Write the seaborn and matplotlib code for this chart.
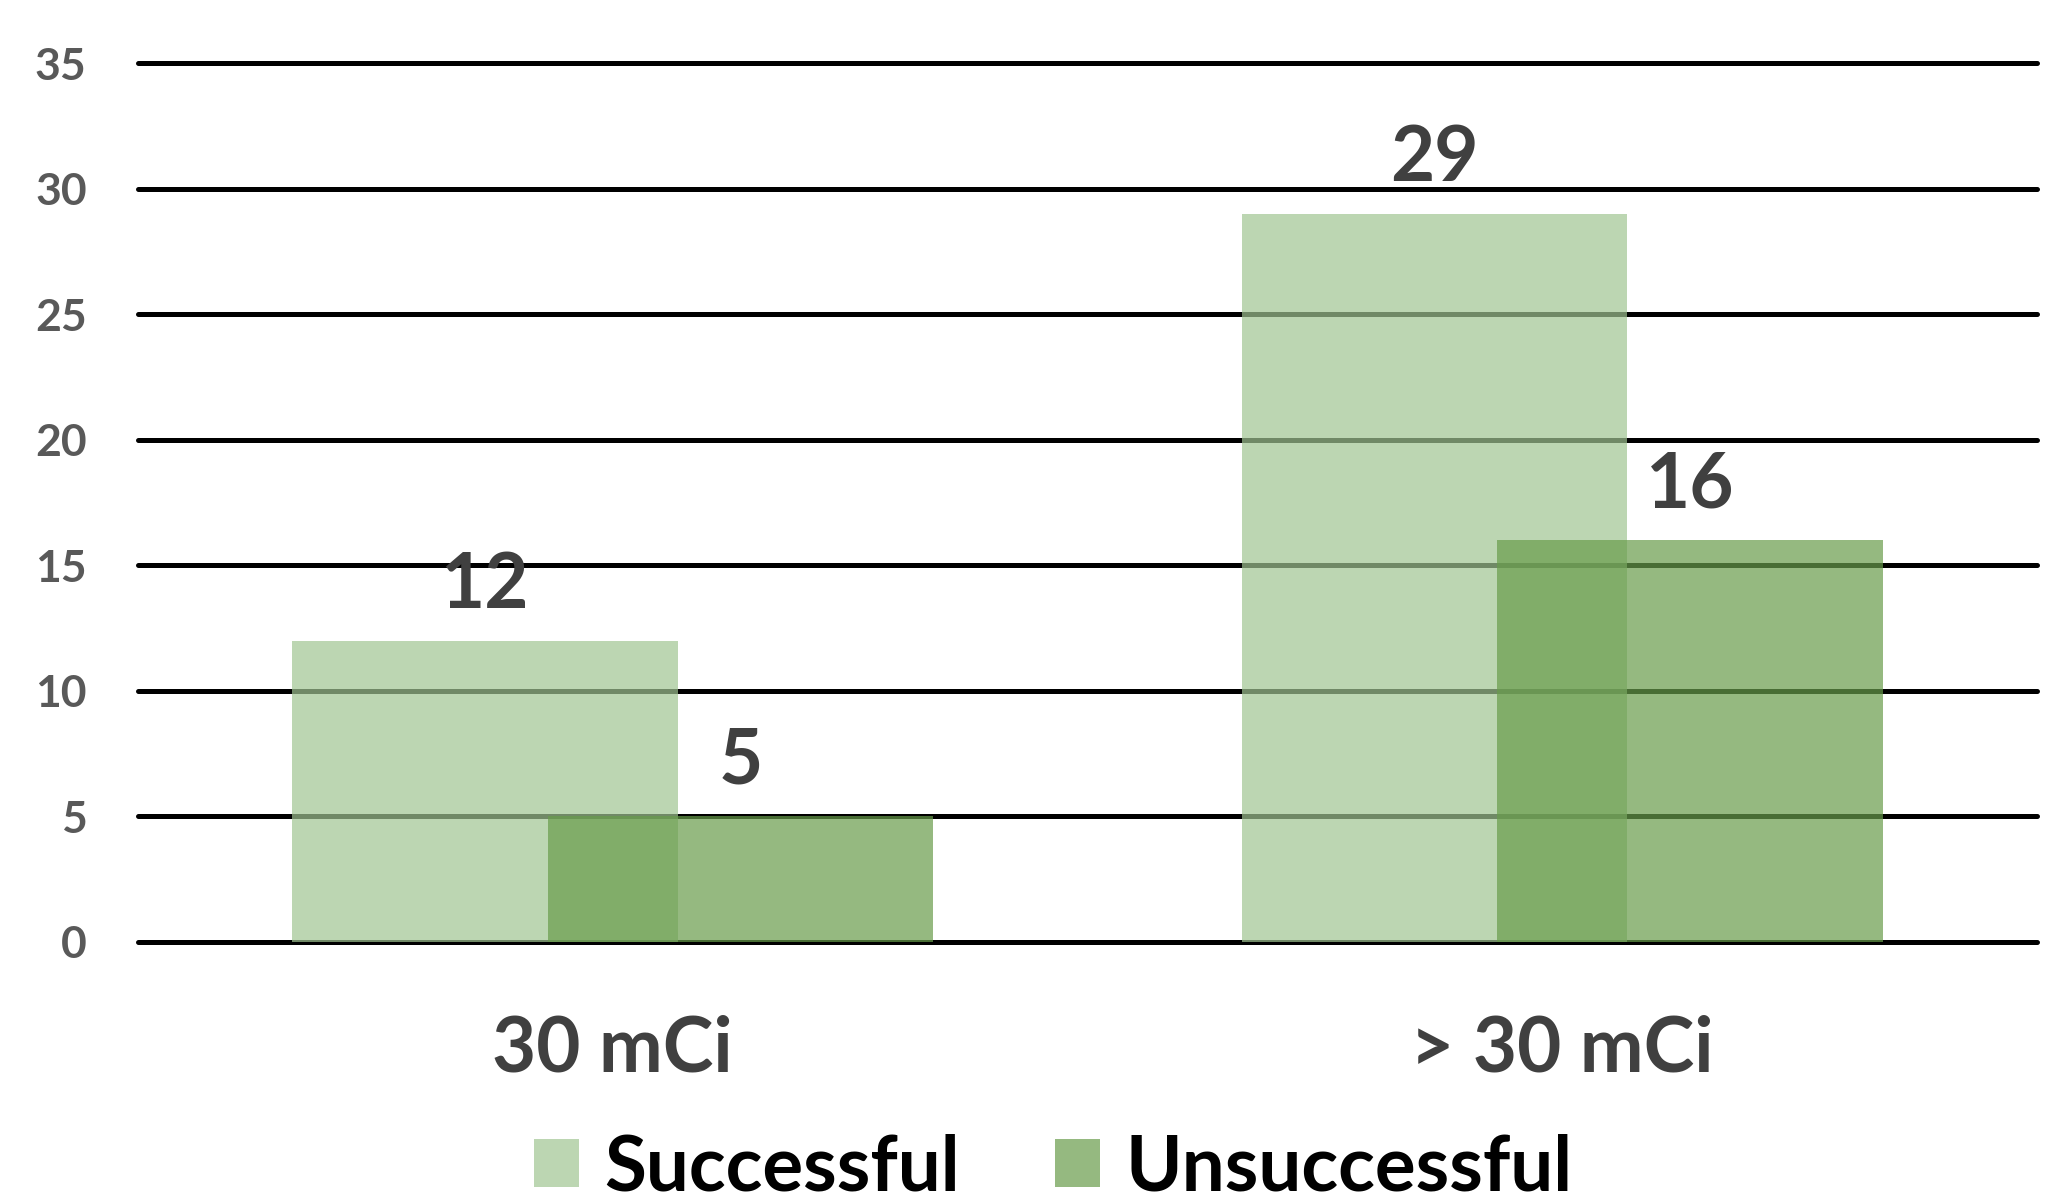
import matplotlib
matplotlib.use("Agg")
import matplotlib.pyplot as plt
import matplotlib.patches as mpatches
import pandas as pd
import seaborn as sns

# Dose groups and outcome counts
doses = ["30 mCi", "> 30 mCi"]
outcomes = ["Successful", "Unsuccessful"]
successful = [12, 29]
unsuccessful = [5, 16]
y_ticks = [0, 5, 10, 15, 20, 25, 30, 35]

colors = {"Successful": "#a0c592", "Unsuccessful": "#689c4b"}

df = pd.DataFrame({
    "dose": doses * 2,
    "outcome": [outcomes[0]] * len(doses) + [outcomes[1]] * len(doses),
    "count": successful + unsuccessful,
})

sns.set_theme(style="white")
plt.rcParams["font.family"] = ["Lato", "DejaVu Sans"]
plt.rcParams["font.weight"] = "bold"

fig = plt.figure(figsize=(20.63, 12.03), dpi=100)
ax = fig.add_axes([0.0669, 0.2170, 0.9205, 0.7347])

sns.barplot(data=df, x="dose", y="count", hue="outcome", order=doses,
            hue_order=outcomes, palette=colors, alpha=0.7, width=0.538,
            dodge=True, errorbar=None, saturation=1, linewidth=0,
            ax=ax, zorder=3, legend=False)

# Widen the dodged bars so the two series overlap around each group centre
bar_w = 0.406
for cont in ax.containers:
    for p in cont.patches:
        cx = p.get_x() + p.get_width() / 2
        p.set_width(bar_w)
        p.set_x(cx - bar_w / 2)
        p.set_edgecolor("none")

for cont in ax.containers:
    ax.bar_label(cont, labels=[f"{v:g}" for v in cont.datavalues],
                 padding=14, fontsize=55, fontweight="bold", color="#404040")

ax.set_xlim(-0.5, 1.5)
ax.set_ylim(0, 35.2)
ax.set_yticks(y_ticks)
ax.yaxis.grid(True, color="black", linewidth=3.6, zorder=0)
ax.set_axisbelow(True)
# keep the zero line at full thickness on the lower edge of the axes
for tick in ax.yaxis.get_major_ticks():
    tick.gridline.set_clip_on(False)
for s in ax.spines.values():
    s.set_visible(False)

ax.tick_params(axis="y", length=0, pad=37, labelsize=32, labelcolor="#595959")
ax.tick_params(axis="x", length=0, pad=52, labelsize=55, labelcolor="#404040")
for lab in ax.get_xticklabels() + ax.get_yticklabels():
    lab.set_fontweight("bold")
ax.set_xlabel("")
ax.set_ylabel("")

handles = [mpatches.Patch(facecolor=colors[o], alpha=0.7, edgecolor="none", label=o)
           for o in outcomes]
leg = fig.legend(handles=handles, loc="center", bbox_to_anchor=(0.5105, 0.029),
                 ncol=2, frameon=False, fontsize=55, handlelength=0.59,
                 handleheight=0.59, handletextpad=0.33, columnspacing=1.24,
                 borderaxespad=0, borderpad=0)
for t in leg.get_texts():
    t.set_fontweight("bold")
    t.set_color("black")

fig.savefig("out.png", dpi=100, facecolor="white")
